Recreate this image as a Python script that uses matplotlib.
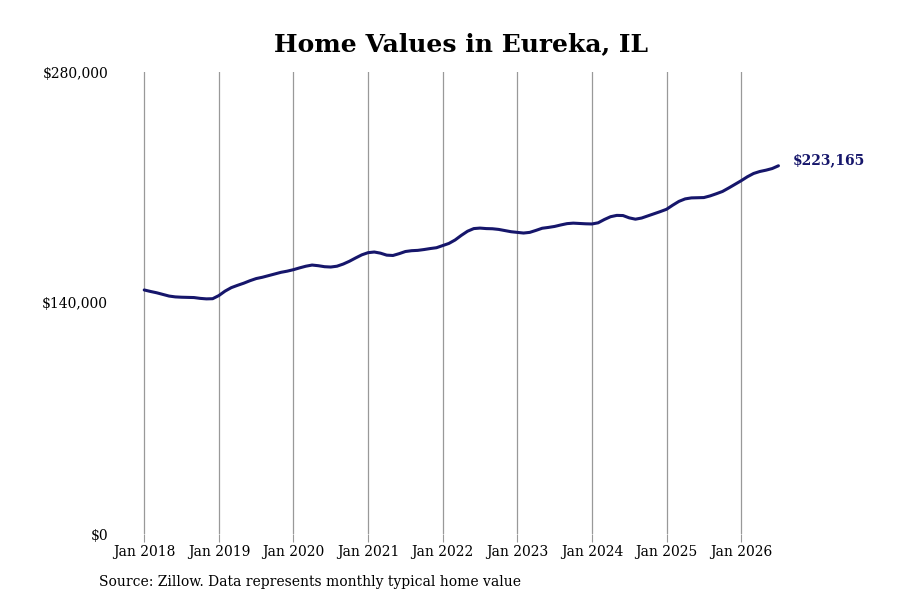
import matplotlib
matplotlib.use("Agg")
import matplotlib.pyplot as plt
import numpy as np

plt.rcParams['font.family'] = ['DejaVu Serif']

start_year = 2018
values = [
    147900, 147000, 146200, 145200, 144200, 143700, 143500, 143400, 143300, 142800, 142500, 142600,
    144500, 147200, 149300, 150700, 152000, 153500, 154800, 155600, 156600, 157600, 158600, 159300,
    160200, 161300, 162300, 163000, 162600, 162000, 161800, 162300, 163600, 165300, 167300, 169200,
    170500, 170900, 170200, 169000, 168800, 169900, 171200, 171700, 171900, 172400, 173000, 173500,
    174800, 176100, 178200, 181000, 183500, 185100, 185400, 185100, 185000, 184600, 183900, 183200,
    182800, 182400, 182800, 184000, 185300, 185800, 186400, 187300, 188100, 188400, 188200, 188000,
    187900, 188600, 190600, 192300, 193100, 193000, 191600, 190800, 191500, 192800, 194100, 195400,
    196800, 199300, 201600, 203100, 203700, 203800, 203900, 204900, 206200, 207600, 209700, 211900,
    214100, 216500, 218500, 219700, 220500, 221500, 223165,
]
tick_labels = [f"Jan {y}" for y in range(2018, 2027)]
y_ticks = [0, 140000, 280000]
title = "Home Values in Eureka, IL"
source = "Source: Zillow. Data represents monthly typical home value"

months = np.arange(len(values))
line_color = '#16166b'

fig = plt.figure(figsize=(9, 6), dpi=100)
ax = fig.add_axes([115/900, 66/600, (800-115)/900, (534-72)/600])

ax.plot(months, values, color=line_color, lw=2.2, solid_capstyle='round')
ax.set_ylim(0, 280000)
ax.set_xlim(-4.7, (800-144)/6.22 - 0.0)

tick_pos = [12*i for i in range(len(tick_labels))]
ax.set_xticks(tick_pos)
ax.set_xticklabels(tick_labels, fontsize=10)
ax.set_yticks(y_ticks)
ax.set_yticklabels([f"${v:,.0f}" for v in y_ticks], fontsize=10)
ax.grid(axis='x', color='#999999', lw=0.9)
ax.grid(axis='y', visible=False)
for s in ax.spines.values():
    s.set_visible(False)
ax.tick_params(axis='x', length=6, color='#999999', pad=2)
ax.tick_params(axis='y', length=0, pad=5)

ax.annotate(f"${values[-1]:,.0f}", xy=(months[-1], values[-1]), xytext=(10, 4),
            textcoords='offset points', fontsize=10, fontweight='bold',
            color=line_color, va='center', ha='left', annotation_clip=False)

fig.text(461/900, 1 - 44/600, title, ha='center', va='center', fontsize=18, fontweight='bold')
fig.text(99/900, 1 - 582/600, source, ha='left', va='center', fontsize=10)

fig.savefig("out.png", dpi=100)
